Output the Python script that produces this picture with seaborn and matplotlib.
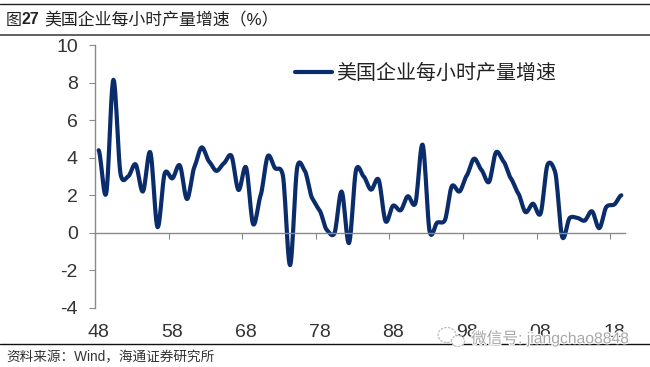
import numpy as np
import pandas as pd
import matplotlib
matplotlib.use('Agg')
import matplotlib.pyplot as plt
import matplotlib.patheffects as pe
from matplotlib.lines import Line2D
from matplotlib.patches import Ellipse
import seaborn as sns

years = list(range(1948, 2020))
growth = [4.4, 2.06, 8.15, 3.07, 3.0, 3.65, 2.2, 4.3, 0.3, 3.2,
          2.9, 3.6, 1.8, 3.5, 4.55, 3.8, 3.3, 3.7, 4.12, 2.28,
          3.5, 0.45, 2.0, 4.1, 3.43, 3.1, -1.72, 3.55, 3.3, 1.85,
          1.2, 0.15, -0.05, 2.2, -0.55, 3.4, 3.0, 2.3, 2.85, 0.6,
          1.45, 1.2, 1.95, 1.55, 4.7, 0.0, 0.55, 0.65, 2.5, 2.2,
          3.05, 3.95, 3.35, 2.7, 4.3, 3.8, 2.9, 2.1, 1.1, 1.55,
          1.0, 3.65, 3.25, -0.25, 0.8, 0.8, 0.65, 1.15, 0.25, 1.4,
          1.5, 2.0]
y_ticks = [-4, -2, 0, 2, 4, 6, 8, 10]
x_labels = ['48', '58', '68', '78', '88', '98', '08', '18']
series_name = '美国企业每小时产量增速'
title_text = '美国企业每小时产量增速（%）'
source_text = '资料来源：Wind，海通证券研究所'
watermark = '微信号: jiangchao8848'

W, H = 650, 367
LINE = '#0B2C6B'
GRAY = '#8A8A8A'
TXT = '#333333'


def smooth(xs, ys, n=12, k=0.3):
    # same look as the smoothed line option in Excel, tangents kept short to limit overshoot
    xs = np.asarray(xs, dtype=float)
    ys = np.asarray(ys, dtype=float)
    p = np.r_[ys[0], ys, ys[-1]]
    t = np.linspace(0, 1, n, endpoint=False)[:, None]
    a, b, c, d = p[:-3], p[1:-2], p[2:-1], p[3:]
    m0, m1 = k * (c - a), k * (d - b)
    seg = ((2 * t ** 3 - 3 * t ** 2 + 1) * b + (t ** 3 - 2 * t ** 2 + t) * m0
           + (-2 * t ** 3 + 3 * t ** 2) * c + (t ** 3 - t ** 2) * m1)
    sx = (xs[:-1] + (xs[1:] - xs[:-1]) * t)
    return np.r_[sx.T.ravel(), xs[-1]], np.r_[seg.T.ravel(), ys[-1]]


sns.set_style('white')
plt.rcParams['font.family'] = ['Liberation Sans', 'Noto Sans CJK SC']
plt.rcParams['axes.unicode_minus'] = False

fig = plt.figure(figsize=(W / 100, H / 100), dpi=100)
ax = fig.add_axes([95 / W, 1 - 308 / H, 530 / W, 263 / H])

idx = np.arange(len(years))
sx, sy = smooth(idx, growth)
df = pd.DataFrame({'x': sx, 'y': sy})
sns.lineplot(data=df, x='x', y='y', ax=ax, color=LINE, lw=3.0, label=series_name,
             estimator=None, errorbar=None, sort=False, solid_capstyle='round')

ax.set_xlim(-0.5, len(years) - 0.5)
ax.set_ylim(-4, 10)
ax.set_xlabel('')
ax.set_ylabel('')
ax.set_yticks(y_ticks)
ax.set_xticks(idx[::10])
ax.set_xticklabels(x_labels)
ax.set_xticks(idx[::10] - 0.5, minor=True)
ax.spines['top'].set_visible(False)
ax.spines['right'].set_visible(False)
ax.spines['bottom'].set_position(('data', 0))
ax.spines['left'].set_color(GRAY)
ax.spines['bottom'].set_color(GRAY)
ax.spines['left'].set_linewidth(1.0)
ax.spines['bottom'].set_linewidth(1.0)
ax.tick_params(axis='y', left=True, length=4.3, width=0.8, color=GRAY, labelsize=14, labelcolor=TXT, pad=8)
ax.tick_params(axis='x', which='major', bottom=False, length=0, labelsize=14, labelcolor=TXT, pad=65.5)
ax.tick_params(axis='x', which='minor', bottom=True, length=4.5, width=0.8, color=GRAY)

leg = ax.legend(loc='center left', bbox_to_anchor=(277 / W, 1 - 73 / H), bbox_transform=fig.transFigure,
                frameon=False, fontsize=14.4, handlelength=1.85, handletextpad=0.2)
for t in leg.get_texts():
    t.set_color('#222222')

# header and footer rules
for ypos, col, lw in [(3.5, '#222222', 1.0), (34.5, '#555555', 1.3), (344.3, '#111111', 1.0)]:
    fig.add_artist(Line2D([0, 1], [1 - ypos / H] * 2, color=col, lw=lw))

fig.text(6 / W, 1 - 20 / H, '图', fontsize=11.5, color='#222222', va='center')
fig.text(22 / W, 1 - 20 / H, '27', fontsize=11.5, color='#222222', va='center', fontweight='bold')
fig.text(44 / W, 1 - 20 / H, title_text, fontsize=12.2, color='#222222', va='center')
fig.text(6 / W, 1 - 357 / H, source_text, fontsize=9.8, color='#333333', va='center')

# watermark
for cx, cy, w, h in [(447, 335, 18, 15), (458, 341, 13, 11)]:
    fig.add_artist(Ellipse((cx / W, 1 - cy / H), w / W, h / H, transform=fig.transFigure,
                           facecolor='white', edgecolor='#BBBBBB', lw=0.9, ls=(0, (2, 1)), zorder=4))
fig.text(471 / W, 1 - 338 / H, watermark, fontsize=11.3, color='#A8A8A8', va='center',
         path_effects=[pe.withStroke(linewidth=1.5, foreground='white')], zorder=5)

fig.savefig('out.png', dpi=100)
plt.close(fig)
